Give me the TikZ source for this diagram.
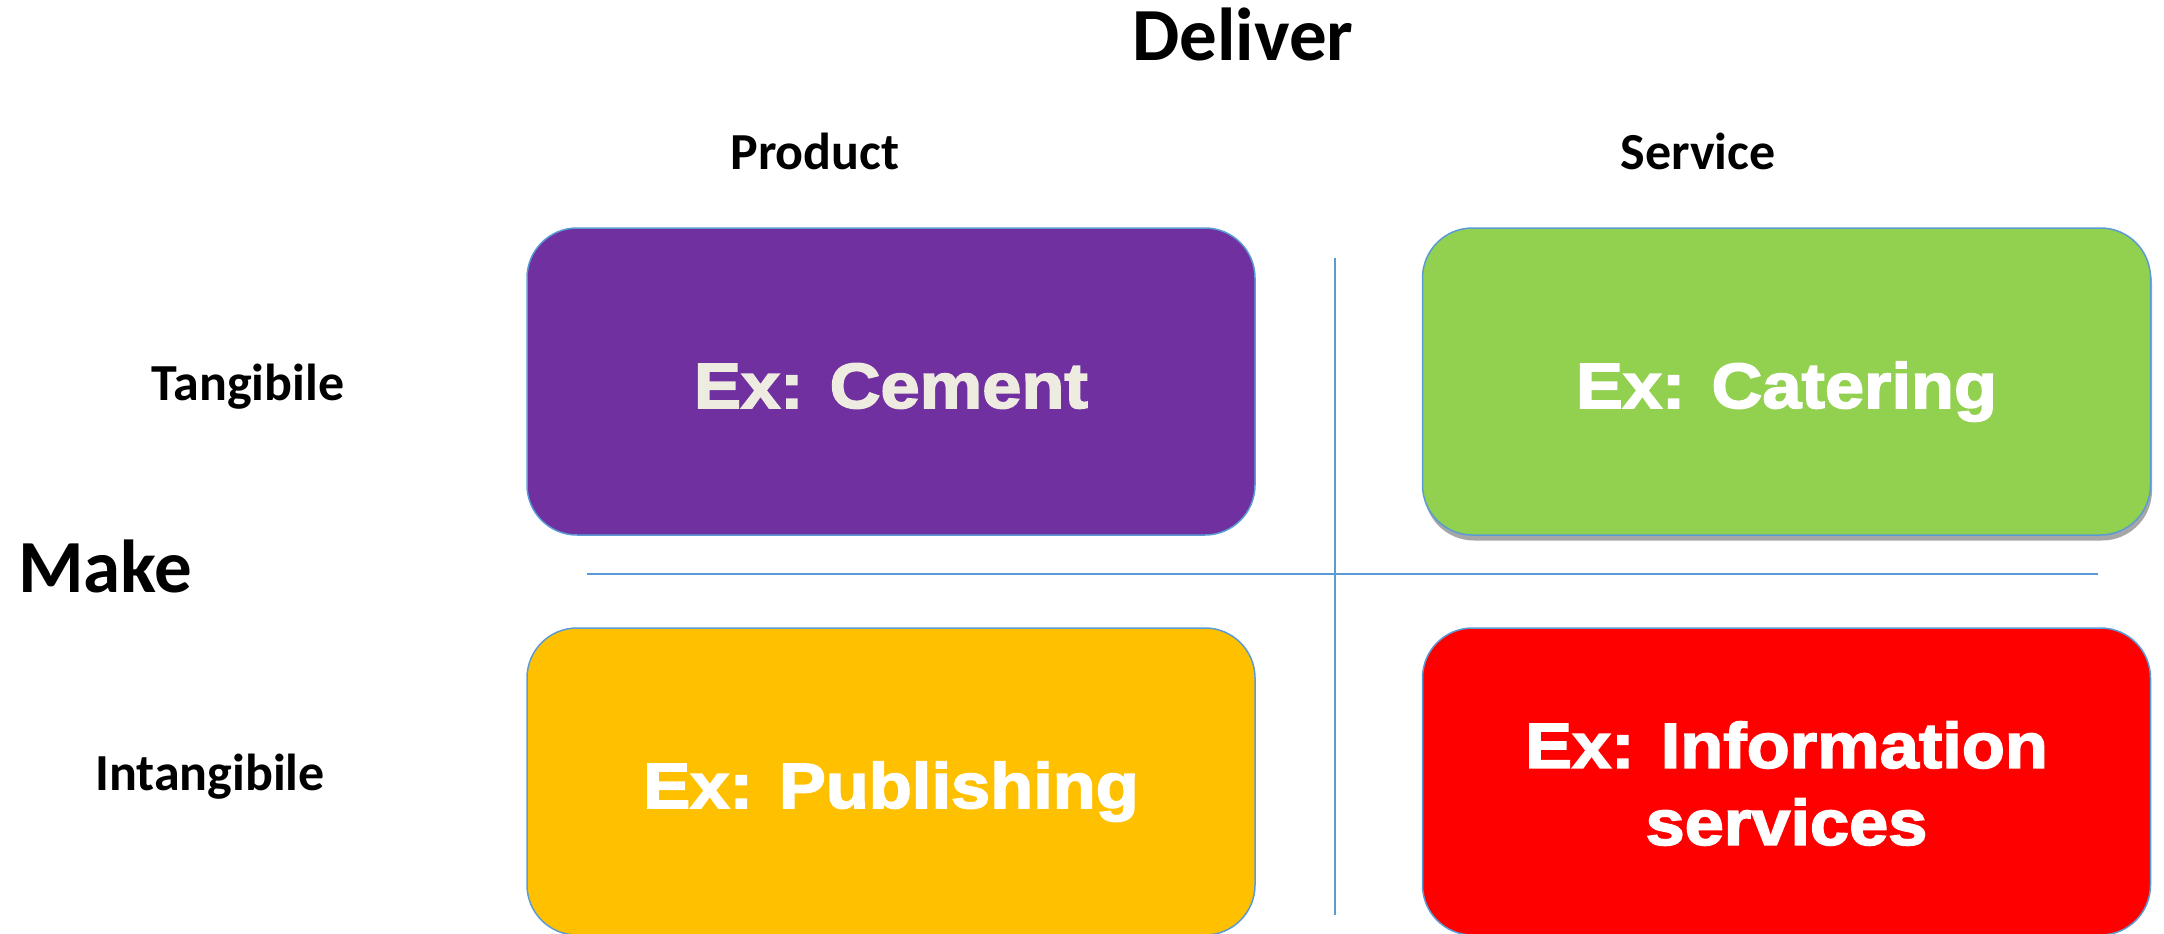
\documentclass[tikz,border=0pt]{standalone}
\usepackage{fontspec}
\setmainfont{Carlito}
\newfontfamily\boxfont[FakeStretch=1.1,FakeBold=2.5]{Liberation Sans Bold}
\definecolor{qpurple}{HTML}{7030A0}
\definecolor{qgreen}{HTML}{92D050}
\definecolor{qyellow}{HTML}{FFC000}
\definecolor{qred}{HTML}{FF0000}
\definecolor{qedge}{HTML}{5B9BD5}
\definecolor{qcream}{HTML}{EEEBE0}
\definecolor{qshadow}{HTML}{A6A6A6}
\begin{document}
\begin{tikzpicture}[x=1pt,y=-1pt,
  qbox/.style={draw=qedge, line width=1.5pt, rounded corners=50pt, minimum width=728pt, minimum height=307pt, inner sep=0pt},
  qlbl/.style={font=\boxfont\fontsize{64}{77}\selectfont, text=white, anchor=base, inner sep=0pt, align=center},
  bigh/.style={font=\bfseries\fontsize{75}{90}\selectfont, anchor=base, inner sep=0pt},
  smallh/.style={font=\bfseries\fontsize{52}{62}\selectfont, anchor=base, inner sep=0pt},
  axis/.style={draw=qedge, line width=2pt}]
\useasboundingbox (0,0) rectangle (2164,934);
% headings
\node[bigh] (deliver) at (1243,61) {Deliver};
\node[bigh, anchor=base west] (make) at (18,592) {Make};
\node[smallh] (product) at (815,169) {Product};
\node[smallh] (service) at (1698,169) {Service};
\node[smallh] (tang) at (248,400) {Tangibile};
\node[smallh] (intang) at (210,790) {Intangibile};
% boxes
\node[qbox, draw=none, fill=qshadow] (greenshadow) at (1788,387) {};
\node[qbox, fill=qpurple] (cement) at (891,381.5) {};
\node[qbox, fill=qgreen] (catering) at (1786.5,381.5) {};
\node[qbox, fill=qyellow] (publishing) at (891,781.5) {};
\node[qbox, fill=qred] (info) at (1786.5,781.5) {};
% labels
\node[qlbl, text=qcream] (cementlbl) at ([yshift=-26.5pt]cement.center) {Ex: Cement};
\node[qlbl] (cateringlbl) at ([yshift=-26.5pt]catering.center) {Ex: Catering};
\node[qlbl] (publishinglbl) at ([yshift=-26.5pt]publishing.center) {Ex: Publishing};
\node[qlbl, anchor=center] (infolbl) at ([yshift=-2pt]info.center) {Ex: Information\\services};
% axes
\coordinate (vtop) at (1335,258);
\coordinate (vbot) at (1335,915);
\coordinate (hleft) at (587,574);
\coordinate (hright) at (2098,574);
\draw[axis] (vtop) -- (vbot);
\draw[axis] (hleft) -- (hright);
\end{tikzpicture}
\end{document}
